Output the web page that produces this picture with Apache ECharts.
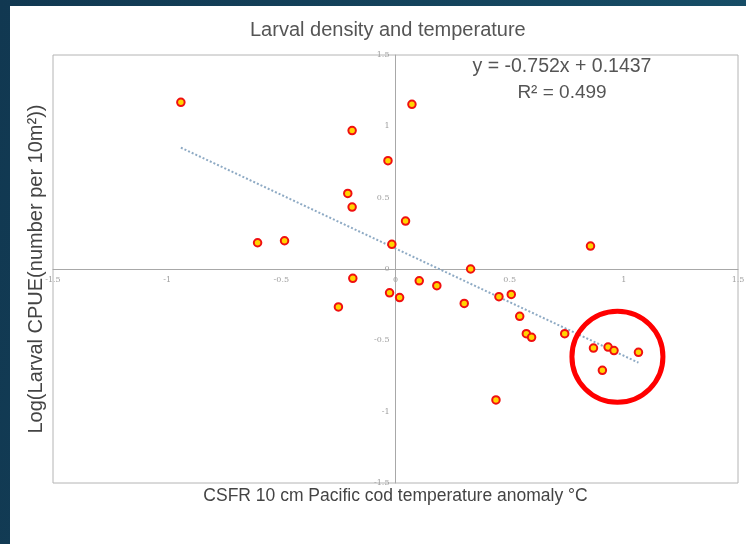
<!DOCTYPE html>
<html>
<head>
<meta charset="utf-8">
<script src="https://cdn.jsdelivr.net/npm/echarts@6/dist/echarts.min.js"></script>
<style>
  html, body { margin: 0; padding: 0; }
  body {
    width: 746px; height: 544px; overflow: hidden; position: relative;
    background: linear-gradient(100deg, #113851 0%, #14435c 50%, #175069 100%);
  }
  #panel { position: absolute; left: 10px; top: 6px; right: 0; bottom: 0; background: #ffffff; }
  #chart { position: absolute; left: 0; top: 0; width: 746px; height: 544px; }
</style>
</head>
<body>
<div id="panel"></div>
<div id="chart"></div>
<script>
// Temperature anomaly (°C) and log larval CPUE for each survey year
const tempAnomaly = [-0.94, -0.19, -0.033, -0.209, -0.19, -0.604, -0.486, -0.016, 0.072, 0.044, 0.854,
  -0.187, -0.026, -0.25, 0.018, 0.104, 0.181, 0.329, 0.301, 0.453, 0.507, 0.544, 0.573, 0.596,
  0.741, 0.867, 0.931, 0.957, 1.064, 0.906, 0.44];
const logCpue = [1.168, 0.97, 0.759, 0.53, 0.434, 0.184, 0.198, 0.173, 1.154, 0.336, 0.161,
  -0.065, -0.167, -0.266, -0.2, -0.083, -0.117, 0.0, -0.241, -0.194, -0.178, -0.332, -0.453, -0.479,
  -0.453, -0.554, -0.547, -0.572, -0.584, -0.71, -0.918];

// Least-squares fit as reported on the chart
const slope = -0.752;
const intercept = 0.1437;
const rSquared = 0.499;

// Highlighted cluster of warm years
const highlightCenter = [0.972, -0.615];

const axisTicks = [-1.5, -1, -0.5, 0, 0.5, 1, 1.5];

const points = tempAnomaly.map((x, i) => [x, logCpue[i]]);
const xLo = Math.min(...tempAnomaly), xHi = Math.max(...tempAnomaly);
const trend = [[xLo, slope * xLo + intercept], [xHi, slope * xHi + intercept]];

const gridBox = { left: 53, right: 8, top: 55, bottom: 61 };
const W = 746, H = 544;

const chart = echarts.init(document.getElementById('chart'), null, { renderer: 'canvas' });
const labelStyle = { color: '#a0a0a0', fontSize: 8, fontFamily: 'DejaVu Serif' };
const textFont = '"Liberation Sans", Arial, sans-serif';

chart.setOption({
  backgroundColor: 'transparent',
  animation: false,
  title: {
    text: 'Larval density and temperature',
    left: 245, top: 15,
    textStyle: { fontFamily: textFont, fontWeight: 'normal', fontSize: 20, color: '#555' }
  },
  grid: Object.assign({
    outerBoundsMode: 'none', containLabel: false,
    show: true, borderColor: '#b4b4b4', borderWidth: 1, backgroundColor: 'transparent'
  }, gridBox),
  xAxis: {
    type: 'value', min: -1.5, max: 1.5, interval: 0.5,
    name: 'CSFR 10 cm Pacific cod temperature anomaly °C',
    nameLocation: 'middle',
    nameTextStyle: { fontFamily: textFont, fontSize: 17.5, color: '#444' },
    axisLine: { onZero: false, lineStyle: { color: '#a8a8a8', width: 1 } },
    axisTick: { show: false },
    splitLine: { show: false },
    axisLabel: Object.assign({ margin: 7, formatter: v => axisTicks.includes(v) ? String(v) : '' }, labelStyle)
  },
  yAxis: {
    type: 'value', min: -1.5, max: 1.5, interval: 0.5,
    name: 'Log(Larval CPUE(number per 10m²))',
    nameLocation: 'middle', nameRotate: 90,
    nameTextStyle: { fontFamily: textFont, fontSize: 20, color: '#444' },
    axisLine: { onZero: false, lineStyle: { color: '#a8a8a8', width: 1 } },
    axisTick: { show: false },
    splitLine: { show: false },
    axisLabel: Object.assign({ margin: 6, formatter: v => axisTicks.includes(v) ? String(v) : '' }, labelStyle)
  },
  graphic: [
    {
      type: 'text', x: 562, y: 57,
      style: { text: 'y = ' + slope + 'x + ' + intercept, fill: '#555', font: '19.5px ' + textFont, textAlign: 'center' }
    },
    {
      type: 'text', x: 562, y: 83,
      style: { text: 'R² = ' + rSquared, fill: '#555', font: '19px ' + textFont, textAlign: 'center' }
    }
  ],
  series: [
    {
      type: 'line', data: trend, showSymbol: false, symbol: 'none', z: 1,
      lineStyle: { color: '#8eaac4', width: 2, type: [2, 2] }
    },
    {
      type: 'scatter', data: points, symbol: 'circle', symbolSize: 7.5, z: 3,
      itemStyle: { color: '#ffd400', borderColor: '#f01010', borderWidth: 2, opacity: 1 }
    },
    {
      type: 'scatter', data: [highlightCenter], symbol: 'circle', symbolSize: 91, z: 4, silent: true,
      itemStyle: { color: 'transparent', borderColor: '#ff0000', borderWidth: 5, opacity: 1 }
    }
  ]
});

// Move both axes (line + labels) onto the zero crossing, keeping titles at the frame edges
const origin = chart.convertToPixel({ gridIndex: 0 }, [0, 0]);
const yShift = origin[0] - gridBox.left;           // distance of x = 0 from the left edge
const xShift = (H - gridBox.bottom) - origin[1];   // distance of y = 0 from the bottom edge
chart.setOption({
  xAxis: { offset: -xShift, nameGap: xShift + 4 },
  yAxis: { offset: -yShift, nameGap: yShift + 7 }
});
</script>
</body>
</html>
